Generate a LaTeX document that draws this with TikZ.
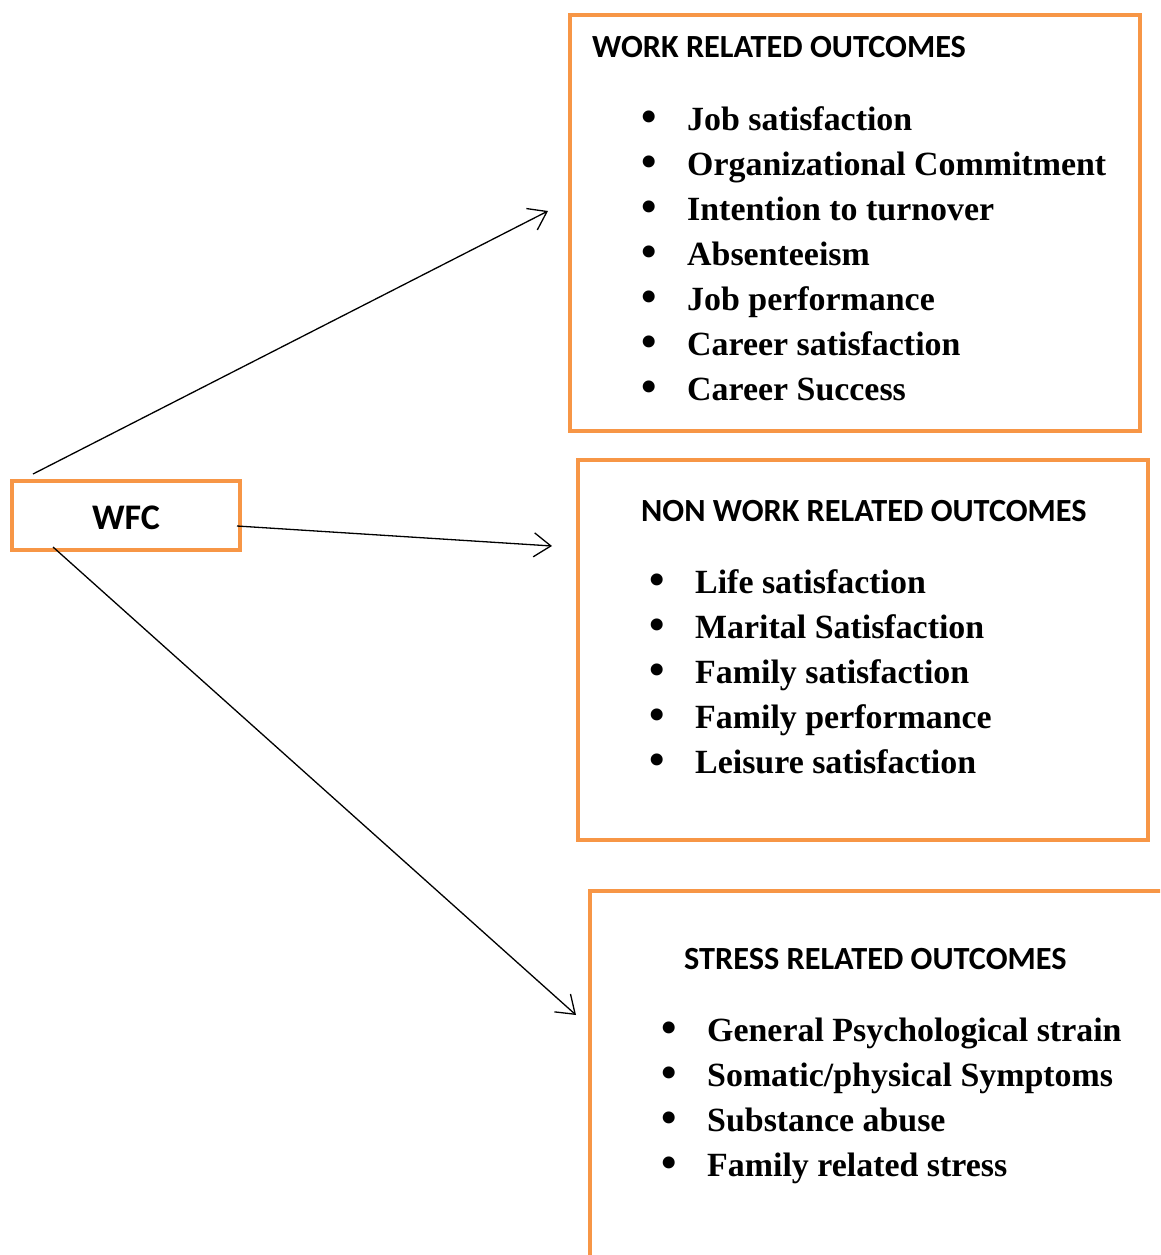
\documentclass[tikz,border=0pt]{standalone}
\usepackage{fontspec}
\usepackage{graphicx}
\setmainfont{Liberation Serif}
\newfontfamily\headfont{Carlito}
\usetikzlibrary{arrows.meta}
\definecolor{boxorange}{HTML}{F79646}
\tikzset{
  obox/.style={draw=boxorange, line width=4pt, fill=white, inner sep=0pt, outer sep=0pt, anchor=north west},
  head/.style={anchor=base west, inner sep=0pt, font=\headfont\bfseries\fontsize{32.3}{36}\selectfont},
  itemtxt/.style={anchor=base west, inner sep=0pt, font=\bfseries\fontsize{33.9}{45}\selectfont},
  arr/.style={draw=black, line width=1.3pt, -{Straight Barb[length=17pt,width=24pt,line width=1.3pt]}}
}
\newcommand{\blt}{\makebox[46pt][l]{\raisebox{-1.5pt}{\scalebox{1.3}{\textbullet}}}}
\begin{document}
\begin{tikzpicture}[x=1pt,y=-1pt]
\useasboundingbox (0,0) rectangle (1160,1255);
\clip (0,0) rectangle (1160,1255);
\fill[white] (0,0) rectangle (1160,1255);
% boxes
\node[obox, minimum width=570pt, minimum height=416pt] (work) at (570,15) {};
\node[obox, minimum width=570pt, minimum height=380pt] (nonwork) at (578,460) {};
\node[obox, minimum width=580pt, minimum height=400pt] (stress) at (590,891) {};
\node[obox, minimum width=228pt, minimum height=69pt] (wfcbox) at (12,481) {};
\node[anchor=base, inner sep=0pt, font=\headfont\bfseries\fontsize{36}{40}\selectfont] (wfc) at (126,529) {WFC};
% headers
\node[head] (h1) at (592,58) {WORK RELATED OUTCOMES};
\node[head] (h2) at (641,521) {NON WORK RELATED OUTCOMES};
\node[head] (h3) at (684,969) {STRESS RELATED OUTCOMES};
% items
\foreach \t [count=\i] in {Job satisfaction, Organizational Commitment, Intention to turnover, Absenteeism, Job performance, Career satisfaction, Career Success}
  \node[itemtxt] (w\i) at (641,{130+45*(\i-1)}) {\blt\t};
\foreach \t [count=\i] in {Life satisfaction, Marital Satisfaction, Family satisfaction, Family performance, Leisure satisfaction}
  \node[itemtxt] (n\i) at (649,{593+45*(\i-1)}) {\blt\t};
\foreach \t [count=\i] in {General Psychological strain, Somatic/physical Symptoms, Substance abuse, Family related stress}
  \node[itemtxt] (s\i) at (661,{1041+45*(\i-1)}) {\blt\t};
% connector end points
\coordinate (a1) at (33,474);
\coordinate (b1) at (548,211);
\coordinate (a2) at (237,526);
\coordinate (b2) at (552,546);
\coordinate (a3) at (53,547);
\coordinate (b3) at (576,1015);
\draw[arr] (a1) -- (b1);
\draw[arr] (a2) -- (b2);
\draw[arr] (a3) -- (b3);
\end{tikzpicture}
\end{document}
